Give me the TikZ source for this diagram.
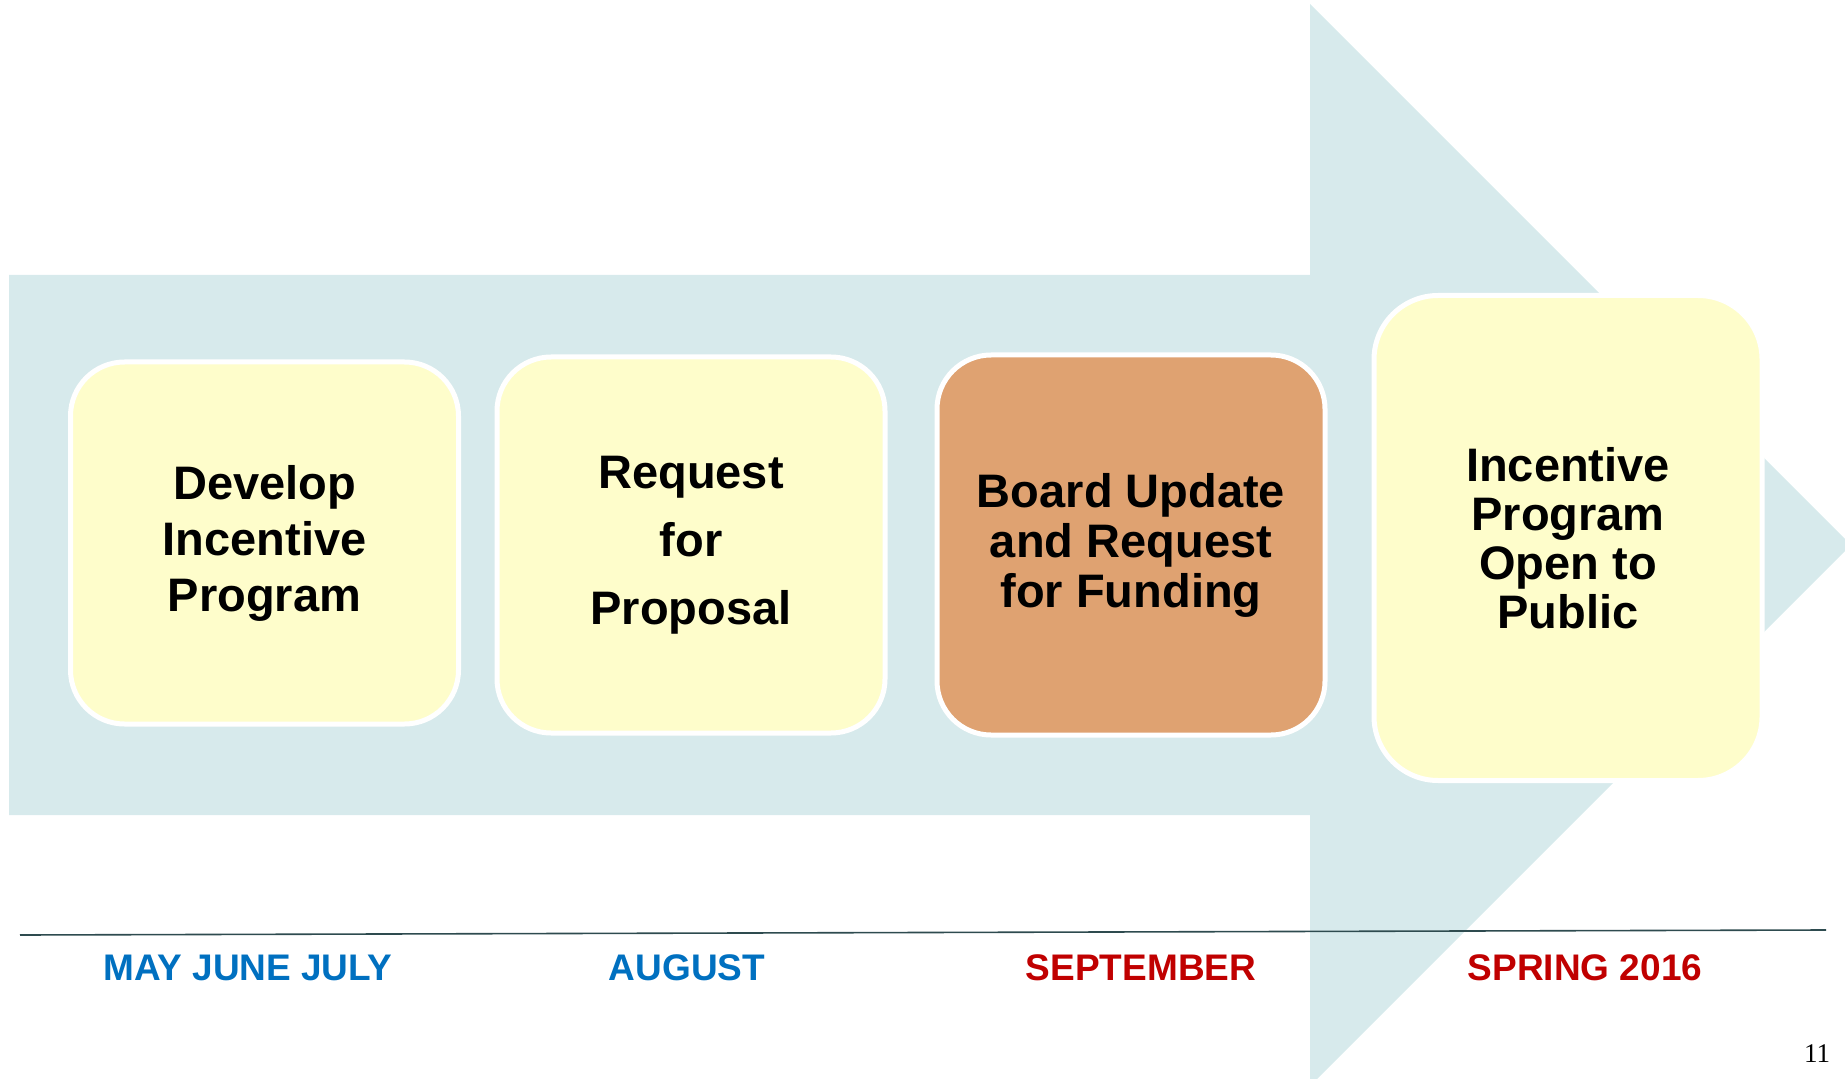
\documentclass[tikz,border=0pt]{standalone}
\usepackage{fontspec}
\setmainfont{Liberation Sans}
\newfontfamily\pagefont{Liberation Serif}
\usetikzlibrary{positioning}
\definecolor{shaft}{HTML}{D7EAEC}
\definecolor{paleyellow}{HTML}{FEFDCB}
\definecolor{tan}{HTML}{DFA271}
\definecolor{monthblue}{HTML}{0070C0}
\definecolor{monthred}{HTML}{C00000}
\definecolor{rule}{HTML}{2E4B4F}

\begin{document}
\begin{tikzpicture}[x=0.5pt,y=-0.5pt,
  stage/.style={rectangle,rounded corners=27pt,draw=white,line width=2.5pt,
    fill=paleyellow,minimum width=194pt,align=center,inner sep=0pt,
    font=\bfseries\fontsize{23.5}{28}\selectfont},
  month/.style={anchor=base,font=\bfseries\fontsize{18.5}{22}\selectfont}]
\useasboundingbox (0,0) rectangle (1845,1079);
\clip (0,0) rectangle (1845,1079);
% big arrow behind the stages
\fill[shaft] (9,275) -- (1310,275) -- (1310,4) -- (1851,545)
  -- (1310,1086) -- (1310,815) -- (9,815) -- cycle;
\node[stage,minimum height=181pt] (Develop) at (264.5,543)
  {Develop\\Incentive\\Program};
\node[stage,minimum height=188pt,font=\bfseries\fontsize{23.5}{34}\selectfont]
  (Request) at (691,545) {Request\\for\\Proposal};
\node[stage,minimum height=190pt,fill=tan,font=\bfseries\fontsize{23.5}{25}\selectfont]
  (Board) at (1131,545) {Board Update\\and Request\\for Funding};
\node[stage,minimum height=242.5pt,rounded corners=32pt,
  font=\bfseries\fontsize{23.5}{24.5}\selectfont]
  (Open) at (1568,538) {Incentive\\Program\\Open to\\Public};
% time line
\coordinate (ruleL) at (20,935);
\coordinate (ruleR) at (1826,930);
\draw[rule,line width=0.8pt] (ruleL) -- (ruleR);
\node[month,text=monthblue] (MayJul) at (248,980) {MAY JUNE JULY};
\node[month,text=monthblue] (Aug) at (687,980) {AUGUST};
\node[month,text=monthred] (Sep) at (1141,980) {SEPTEMBER};
\node[month,text=monthred] (Spring) at (1585,980) {SPRING 2016};
\node[anchor=base,font=\pagefont\fontsize{13.5}{16}\selectfont] (page) at (1817,1062) {11};
\end{tikzpicture}
\end{document}
